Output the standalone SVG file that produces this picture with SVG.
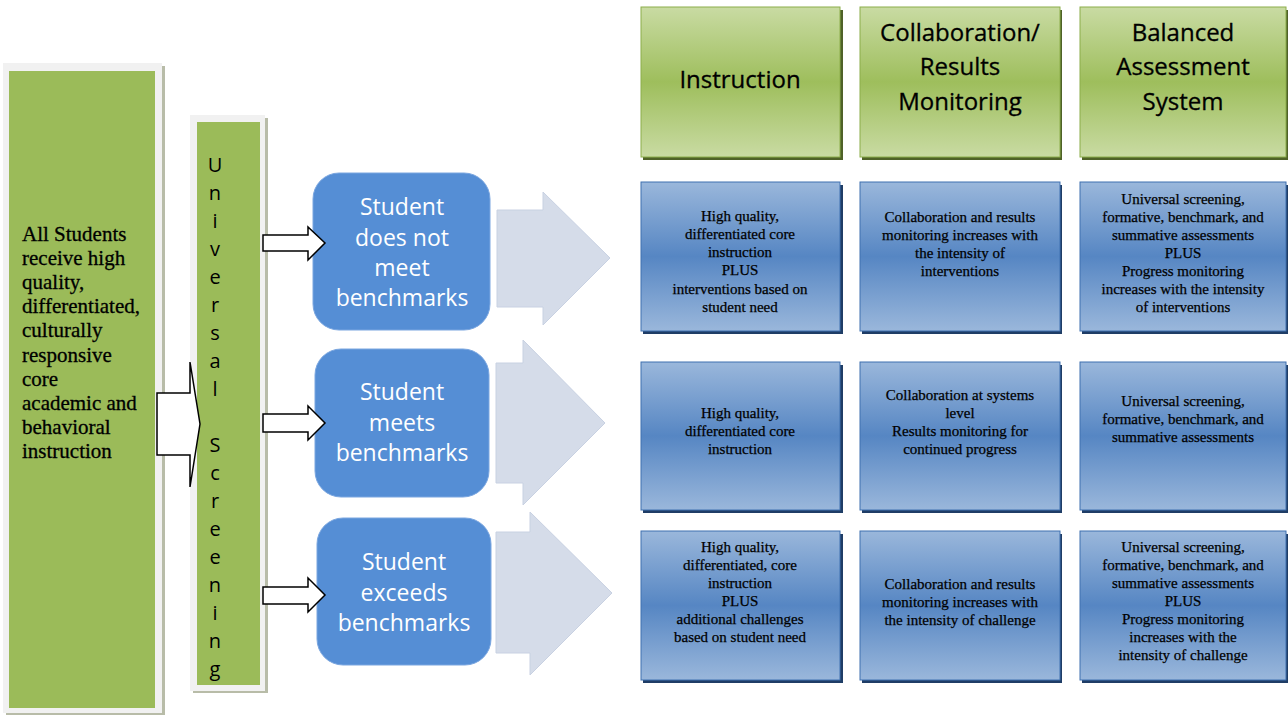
<svg xmlns="http://www.w3.org/2000/svg" width="1288" height="715" viewBox="0 0 1288 715">
<defs>
<linearGradient id="gGreen" x1="0" y1="0" x2="0" y2="1">
<stop offset="0" stop-color="#C9DBA3"/>
<stop offset="0.5" stop-color="#9EBE5C"/>
<stop offset="1" stop-color="#C9DBA3"/>
</linearGradient>
<linearGradient id="gBlue" x1="0" y1="0" x2="0" y2="1">
<stop offset="0" stop-color="#9AB7DB"/>
<stop offset="0.5" stop-color="#5686C3"/>
<stop offset="1" stop-color="#9AB7DB"/>
</linearGradient>
<style>
.frame{fill:#F1F1F1;}
.fshadow{fill:#B8BCA8;}
.lgreen{fill:#9BBB59;}
.hdr{fill:url(#gGreen);stroke:#8CAE4A;stroke-width:1;}
.hshadow{fill:#4F6228;}
.cell{fill:url(#gBlue);stroke:#3F70B0;stroke-width:1;}
.cshadow{fill:#1F3D66;}
.stud{fill:#558ED5;stroke:#7AA6E0;stroke-width:1;}
.big{fill:#D5DCE9;stroke:#C8D1E2;stroke-width:1;}
.hollow{fill:#FFFFFF;stroke:#000000;stroke-width:1.5;stroke-linejoin:miter;}
.lt{font-family:"Liberation Serif",serif;font-size:21px;fill:#000;stroke:#000;stroke-width:0.3;}
.us{font-family:"Open Sans","Liberation Sans",sans-serif;font-size:20px;fill:#000;text-anchor:middle;}
.st{font-family:"Open Sans","Liberation Sans",sans-serif;font-size:23px;fill:#FFFFFF;text-anchor:middle;}
.ht{font-family:"Open Sans","Liberation Sans",sans-serif;font-size:24px;fill:#000;text-anchor:middle;stroke:#000;stroke-width:0.3;}
.ct{font-family:"Liberation Serif",serif;font-size:15px;fill:#000;text-anchor:middle;stroke:#000;stroke-width:0.25;}
</style>
</defs>
<rect width="1288" height="715" fill="#FFFFFF"/>

<g id="all-students">
<rect class="fshadow" x="6" y="66" width="159" height="649"/>
<rect class="frame" x="3" y="63" width="159" height="650"/>
<rect class="lgreen" x="9" y="71" width="146" height="637"/>
<text class="lt" x="22" y="241">All Students</text>
<text class="lt" x="22" y="265">receive high</text>
<text class="lt" x="22" y="289">quality,</text>
<text class="lt" x="22" y="313">differentiated,</text>
<text class="lt" x="22" y="337">culturally</text>
<text class="lt" x="22" y="362">responsive</text>
<text class="lt" x="22" y="386">core</text>
<text class="lt" x="22" y="410">academic and</text>
<text class="lt" x="22" y="434">behavioral</text>
<text class="lt" x="22" y="458">instruction</text>
</g>

<g id="universal-screening">
<rect class="fshadow" x="193" y="118" width="75" height="575"/>
<rect class="frame" x="190" y="115" width="75" height="576"/>
<rect class="lgreen" x="197" y="122" width="63" height="563"/>
<text class="us" x="215" y="172">U</text>
<text class="us" x="215" y="200">n</text>
<text class="us" x="215" y="228">i</text>
<text class="us" x="215" y="256">v</text>
<text class="us" x="215" y="284">e</text>
<text class="us" x="215" y="312">r</text>
<text class="us" x="215" y="340">s</text>
<text class="us" x="215" y="368">a</text>
<text class="us" x="215" y="396">l</text>
<text class="us" x="215" y="452">S</text>
<text class="us" x="215" y="480">c</text>
<text class="us" x="215" y="508">r</text>
<text class="us" x="215" y="536">e</text>
<text class="us" x="215" y="564">e</text>
<text class="us" x="215" y="592">n</text>
<text class="us" x="215" y="620">i</text>
<text class="us" x="215" y="648">n</text>
<text class="us" x="215" y="676">g</text>
</g>

<g id="student-not-meet">
<rect class="stud" x="313" y="173" width="177" height="157" rx="26" ry="26"/>
<text class="st" x="402" y="215">Student</text>
<text class="st" x="402" y="246">does not</text>
<text class="st" x="402" y="276">meet</text>
<text class="st" x="402" y="306">benchmarks</text>
</g>
<g id="student-meets">
<rect class="stud" x="315" y="349" width="174" height="148" rx="26" ry="26"/>
<text class="st" x="402" y="400">Student</text>
<text class="st" x="402" y="431">meets</text>
<text class="st" x="402" y="461">benchmarks</text>
</g>
<g id="student-exceeds">
<rect class="stud" x="317" y="518" width="174" height="147" rx="26" ry="26"/>
<text class="st" x="404" y="570">Student</text>
<text class="st" x="404" y="601">exceeds</text>
<text class="st" x="404" y="631">benchmarks</text>
</g>

<g id="headers">
<g id="hdr-instruction">
<rect class="hshadow" x="643" y="10" width="200" height="150"/>
<rect class="hdr" x="641" y="7" width="199" height="150"/>
<text class="ht" x="740" y="88">Instruction</text>
</g>
<g id="hdr-collab">
<rect class="hshadow" x="862" y="10" width="200" height="150"/>
<rect class="hdr" x="860" y="7" width="200" height="150"/>
<text class="ht" x="960" y="41">Collaboration/</text>
<text class="ht" x="960" y="75">Results</text>
<text class="ht" x="960" y="110">Monitoring</text>
</g>
<g id="hdr-balanced">
<rect class="hshadow" x="1082" y="10" width="206" height="150"/>
<rect class="hdr" x="1080" y="7" width="206" height="150"/>
<text class="ht" x="1183" y="41">Balanced</text>
<text class="ht" x="1183" y="75">Assessment</text>
<text class="ht" x="1183" y="110">System</text>
</g>
</g>

<g id="row1">
<g id="r1-instruction">
<rect class="cshadow" x="643" y="185" width="200" height="149"/>
<rect class="cell" x="641" y="182" width="199" height="149"/>
<text class="ct" x="740" y="221">High quality,</text>
<text class="ct" x="740" y="239">differentiated core</text>
<text class="ct" x="740" y="257">instruction</text>
<text class="ct" x="740" y="275">PLUS</text>
<text class="ct" x="740" y="294">interventions based on</text>
<text class="ct" x="740" y="312">student need</text>
</g>
<g id="r1-collab">
<rect class="cshadow" x="862" y="185" width="200" height="149"/>
<rect class="cell" x="860" y="182" width="200" height="149"/>
<text class="ct" x="960" y="222">Collaboration and results</text>
<text class="ct" x="960" y="240">monitoring increases with</text>
<text class="ct" x="960" y="258">the intensity of</text>
<text class="ct" x="960" y="276">interventions</text>
</g>
<g id="r1-assess">
<rect class="cshadow" x="1082" y="185" width="206" height="149"/>
<rect class="cell" x="1080" y="182" width="206" height="149"/>
<text class="ct" x="1183" y="204">Universal screening,</text>
<text class="ct" x="1183" y="222">formative, benchmark, and</text>
<text class="ct" x="1183" y="240">summative assessments</text>
<text class="ct" x="1183" y="258">PLUS</text>
<text class="ct" x="1183" y="276">Progress monitoring</text>
<text class="ct" x="1183" y="294">increases with the intensity</text>
<text class="ct" x="1183" y="312">of interventions</text>
</g>
</g>

<g id="row2">
<g id="r2-instruction">
<rect class="cshadow" x="643" y="365" width="200" height="148"/>
<rect class="cell" x="641" y="362" width="199" height="148"/>
<text class="ct" x="740" y="418">High quality,</text>
<text class="ct" x="740" y="436">differentiated core</text>
<text class="ct" x="740" y="454">instruction</text>
</g>
<g id="r2-collab">
<rect class="cshadow" x="862" y="365" width="200" height="148"/>
<rect class="cell" x="860" y="362" width="200" height="148"/>
<text class="ct" x="960" y="400">Collaboration at systems</text>
<text class="ct" x="960" y="418">level</text>
<text class="ct" x="960" y="436">Results monitoring for</text>
<text class="ct" x="960" y="454">continued progress</text>
</g>
<g id="r2-assess">
<rect class="cshadow" x="1082" y="365" width="206" height="148"/>
<rect class="cell" x="1080" y="362" width="206" height="148"/>
<text class="ct" x="1183" y="406">Universal screening,</text>
<text class="ct" x="1183" y="424">formative, benchmark, and</text>
<text class="ct" x="1183" y="442">summative assessments</text>
</g>
</g>

<g id="row3">
<g id="r3-instruction">
<rect class="cshadow" x="643" y="534" width="200" height="149"/>
<rect class="cell" x="641" y="531" width="199" height="149"/>
<text class="ct" x="740" y="552">High quality,</text>
<text class="ct" x="740" y="570">differentiated, core</text>
<text class="ct" x="740" y="588">instruction</text>
<text class="ct" x="740" y="606">PLUS</text>
<text class="ct" x="740" y="624">additional challenges</text>
<text class="ct" x="740" y="642">based on student need</text>
</g>
<g id="r3-collab">
<rect class="cshadow" x="862" y="534" width="200" height="149"/>
<rect class="cell" x="860" y="531" width="200" height="149"/>
<text class="ct" x="960" y="589">Collaboration and results</text>
<text class="ct" x="960" y="607">monitoring increases with</text>
<text class="ct" x="960" y="625">the intensity of challenge</text>
</g>
<g id="r3-assess">
<rect class="cshadow" x="1082" y="534" width="206" height="149"/>
<rect class="cell" x="1080" y="531" width="206" height="149"/>
<text class="ct" x="1183" y="552">Universal screening,</text>
<text class="ct" x="1183" y="570">formative, benchmark, and</text>
<text class="ct" x="1183" y="588">summative assessments</text>
<text class="ct" x="1183" y="606">PLUS</text>
<text class="ct" x="1183" y="624">Progress monitoring</text>
<text class="ct" x="1183" y="642">increases with the</text>
<text class="ct" x="1183" y="660">intensity of challenge</text>
</g>
</g>

<g id="connectors">
<path class="hollow" d="M157,393 L190,393 L190,362 L200,424 L190,487 L190,455 L157,455 Z"/>
<path class="hollow" d="M263,235 L308,235 L308,227 L325,243 L308,260 L308,251 L263,251 Z"/>
<path class="hollow" d="M263,414 L308,414 L308,406 L325,423 L308,440 L308,432 L263,432 Z"/>
<path class="hollow" d="M263,587 L308,587 L308,578 L325,595 L308,612 L308,604 L263,604 Z"/>
<path class="big" d="M497,210 L543,210 L543,192 L610,258 L543,325 L543,307 L497,307 Z"/>
<path class="big" d="M496,363 L523,363 L523,340 L605,423 L523,505 L523,483 L496,483 Z"/>
<path class="big" d="M496,532 L530,532 L530,512 L612,593 L530,675 L530,653 L496,653 Z"/>
</g>
</svg>
